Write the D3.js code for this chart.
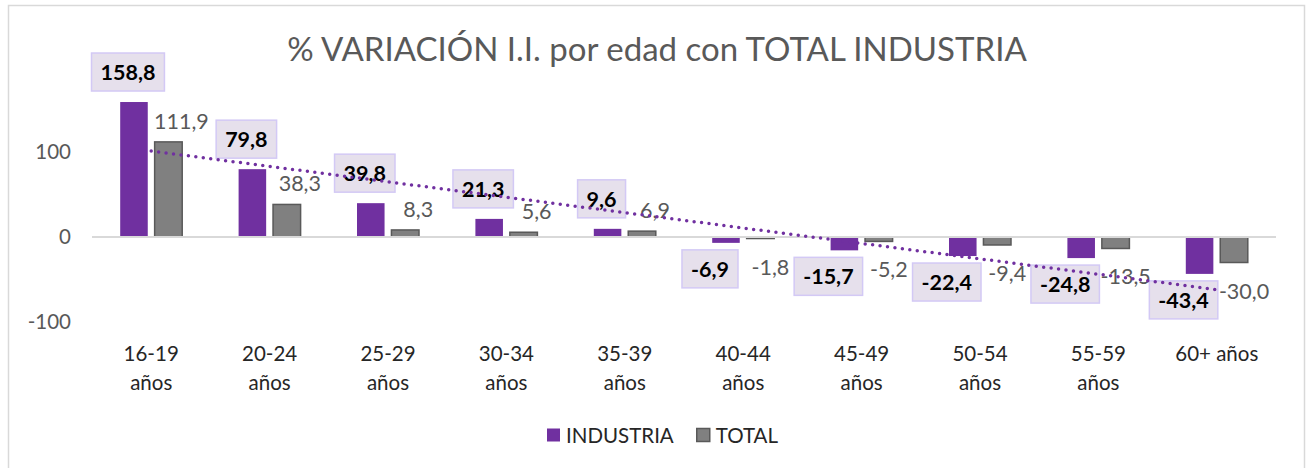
<!DOCTYPE html>
<html>
<head>
<meta charset="utf-8">
<script src="https://cdn.jsdelivr.net/npm/d3@7"></script>
<style>
  body { margin: 0; background: #fff; }
  svg text { font-family: "Lato", "Open Sans", sans-serif; }
</style>
</head>
<body>
<div id="chart"></div>
<script>
// chart data
var categories = ['16-19 años', '20-24 años', '25-29 años', '30-34 años', '35-39 años',
  '40-44 años', '45-49 años', '50-54 años', '55-59 años', '60+ años'];
var industria = [158.8, 79.8, 39.8, 21.3, 9.6, -6.9, -15.7, -22.4, -24.8, -43.4];
var total = [111.9, 38.3, 8.3, 5.6, 6.9, -1.8, -5.2, -9.4, -13.5, -30.0];
var yTicks = [-100, 0, 100];
var seriesNames = ['INDUSTRIA', 'TOTAL'];

var W = 1311, H = 468;
var margin = { left: 92, right: 35, top: 67, bottom: 146 };
var purple = '#7030A0', grey = '#808080';

var svg = d3.select('#chart').append('svg').attr('width', W).attr('height', H);

// chart frame
svg.append('rect').attr('x', 8.5).attr('y', 5.5).attr('width', 1296).attr('height', 470)
  .attr('fill', '#fff').attr('stroke', '#d9d9d9').attr('stroke-width', 1.5);

// title
svg.append('text').attr('x', 657).attr('y', 61).attr('text-anchor', 'middle')
  .attr('font-size', 33).attr('fill', '#595959')
  .text('% VARIACIÓN I.I. por edad con TOTAL INDUSTRIA');

// scales
var x = d3.scaleBand().domain(categories).range([margin.left, W - margin.right]);
var x1 = d3.scaleBand().domain(seriesNames).range([x.bandwidth() / 2 - 31, x.bandwidth() / 2 + 31]).paddingInner(0.2);
var y = d3.scaleLinear().domain([-100, 200]).range([322, 67]);

// y axis labels
var yAxis = svg.append('g').attr('transform', 'translate(' + 71 + ',0)')
  .call(d3.axisLeft(y).tickValues(yTicks).tickSize(0).tickPadding(0)
    .tickFormat(function(v) { return String(v); }));
yAxis.select('.domain').remove();
yAxis.selectAll('text').attr('font-size', 20.5).attr('fill', '#595959')
  .attr('font-family', 'Lato, sans-serif');

// bars
var rows = categories.map(function(c, i) {
  return { cat: c, vals: [ { s: 'INDUSTRIA', v: industria[i] }, { s: 'TOTAL', v: total[i] } ] };
});

var groups = svg.selectAll('.cat').data(rows).enter().append('g')
  .attr('class', 'cat').attr('transform', function(d) { return 'translate(' + x(d.cat) + ',0)'; });

groups.selectAll('rect').data(function(d) { return d.vals; }).enter().append('rect')
  .attr('x', function(d) { return x1(d.s); })
  .attr('width', x1.bandwidth())
  .attr('y', function(d) { return Math.min(y(d.v), y(0)); })
  .attr('height', function(d) { return Math.abs(y(d.v) - y(0)); })
  .attr('fill', function(d) { return d.s === 'INDUSTRIA' ? purple : grey; })
  .attr('stroke', function(d) { return d.s === 'INDUSTRIA' ? 'none' : '#595959'; })
  .attr('stroke-width', 1.5);

// zero line
svg.append('line').attr('x1', margin.left).attr('x2', W - margin.right)
  .attr('y1', y(0)).attr('y2', y(0)).attr('stroke', '#d9d9d9').attr('stroke-width', 2);

// category labels
var fmt = function(v) { return v.toFixed(1).replace('.', ','); };
var xAxis = svg.append('g').attr('transform', 'translate(0,' + 353 + ')');
categories.forEach(function(c) {
  var t = xAxis.append('text').attr('x', x(c) + x.bandwidth() / 2).attr('y', 0)
    .attr('text-anchor', 'middle').attr('dominant-baseline', 'central')
    .attr('font-size', 20.5).attr('fill', '#262626').text(c);
  if (t.node().getComputedTextLength() > 95) {
    var parts = c.split(' ');
    t.text(null);
    parts.forEach(function(p, k) {
      t.append('tspan').attr('x', x(c) + x.bandwidth() / 2).attr('dy', k ? 29 : 0).text(p);
    });
  }
});

// labels for TOTAL
rows.forEach(function(d) {
  var tv = d.vals[1].v;
  var cx = x(d.cat) + x1('TOTAL') + x1.bandwidth() / 2;
  var ly = tv >= 0 ? y(tv) - 21 : y(tv) + 28;
  svg.append('text').attr('x', cx + (tv >= 0 ? 13 : 10)).attr('y', ly)
    .attr('text-anchor', 'middle').attr('dominant-baseline', 'central')
    .attr('font-size', 21.5).attr('fill', '#595959').text(fmt(tv));
});

// labels for INDUSTRIA (boxed, bold)
rows.forEach(function(d) {
  var iv = d.vals[0].v;
  var cx = x(d.cat) + x1('INDUSTRIA') + x1.bandwidth() / 2 + (iv >= 0 ? -6 : -16);
  var cy = iv >= 0 ? y(iv) - 30 : y(iv) + 26;
  var g = svg.append('g');
  var box = g.append('rect');
  var t = g.append('text').attr('x', cx).attr('y', cy)
    .attr('text-anchor', 'middle').attr('dominant-baseline', 'central')
    .attr('font-size', 21.5).attr('font-weight', 'bold').attr('fill', '#000').text(fmt(iv));
  var w = t.node().getComputedTextLength() + 18;
  box.attr('x', cx - w / 2).attr('y', cy - 19).attr('width', w).attr('height', 38)
    .attr('fill', '#e6e0ec').attr('stroke', '#d3c9f5').attr('stroke-width', 1.5);
});

// linear trend of INDUSTRIA
var n = industria.length;
var xs = d3.range(1, n + 1);
var mx = d3.mean(xs), my = d3.mean(industria);
var slope = d3.sum(xs, function(v, i) { return (v - mx) * (industria[i] - my); }) /
  d3.sum(xs, function(v) { return (v - mx) * (v - mx); });
var icpt = my - slope * mx;
var trend = [1, n].map(function(k) {
  return [x(categories[k - 1]) + x.bandwidth() / 2, y(icpt + slope * k)];
});
svg.append('path').attr('d', d3.line()(trend)).attr('fill', 'none')
  .attr('stroke', purple).attr('stroke-width', 3.5)
  .attr('stroke-dasharray', '0 7.5').attr('stroke-linecap', 'round');

// legend
var legend = svg.append('g').attr('transform', 'translate(547,435)');
var lx = 0;
seriesNames.forEach(function(s, i) {
  legend.append('rect').attr('x', lx).attr('y', -6.5).attr('width', 13).attr('height', 13)
    .attr('fill', i ? grey : purple).attr('stroke', i ? '#595959' : 'none').attr('stroke-width', 1.5);
  var t = legend.append('text').attr('x', lx + 19).attr('y', 0).attr('dominant-baseline', 'central')
    .attr('font-size', 20.5).attr('fill', '#262626').text(s);
  lx += 19 + t.node().getComputedTextLength() + 23;
});
</script>
</body>
</html>
